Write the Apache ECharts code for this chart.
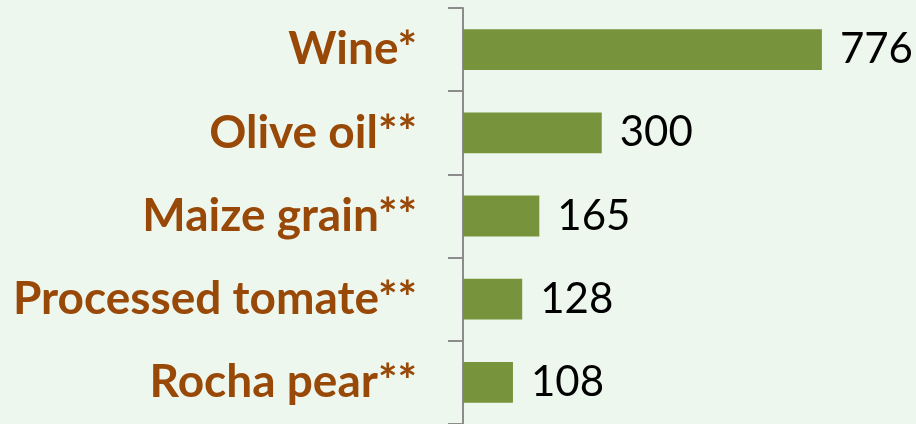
<!DOCTYPE html>
<html>
<head>
<meta charset="utf-8">
<script src="https://cdn.jsdelivr.net/npm/echarts@6/dist/echarts.min.js"></script>
<style>
  html, body { margin: 0; padding: 0; background: #eef7ee; }
  #chart { width: 916px; height: 424px; }
</style>
</head>
<body>
<div id="chart"></div>
<script>
// categories from top to bottom
const products = ['Wine*', 'Olive oil**', 'Maize grain**', 'Processed tomate**', 'Rocha pear**'];
const values = [776, 300, 165, 128, 108];

const chart = echarts.init(document.getElementById('chart'));

chart.setOption({
  backgroundColor: '#eef7ee',
  animation: false,
  grid: { left: 463, right: 83, top: 8, bottom: 0 },
  xAxis: {
    type: 'value',
    min: 0,
    max: 800,
    show: false
  },
  yAxis: {
    type: 'category',
    inverse: true,
    data: products,
    axisLine: { show: true, lineStyle: { color: '#8c8c8c', width: 2 } },
    axisTick: { show: true, length: 15, lineStyle: { color: '#8c8c8c', width: 2 } },
    axisLabel: {
      margin: 46,
      color: '#984807',
      fontFamily: 'Lato',
      fontWeight: 'bold',
      fontSize: 46
    },
    splitLine: { show: false }
  },
  series: [
    {
      type: 'bar',
      data: values,
      barWidth: '49%',
      itemStyle: { color: '#77933c' },
      label: {
        show: true,
        position: 'right',
        distance: 18,
        color: '#000',
        fontFamily: 'Lato',
        fontSize: 42
      }
    }
  ]
});
</script>
</body>
</html>
